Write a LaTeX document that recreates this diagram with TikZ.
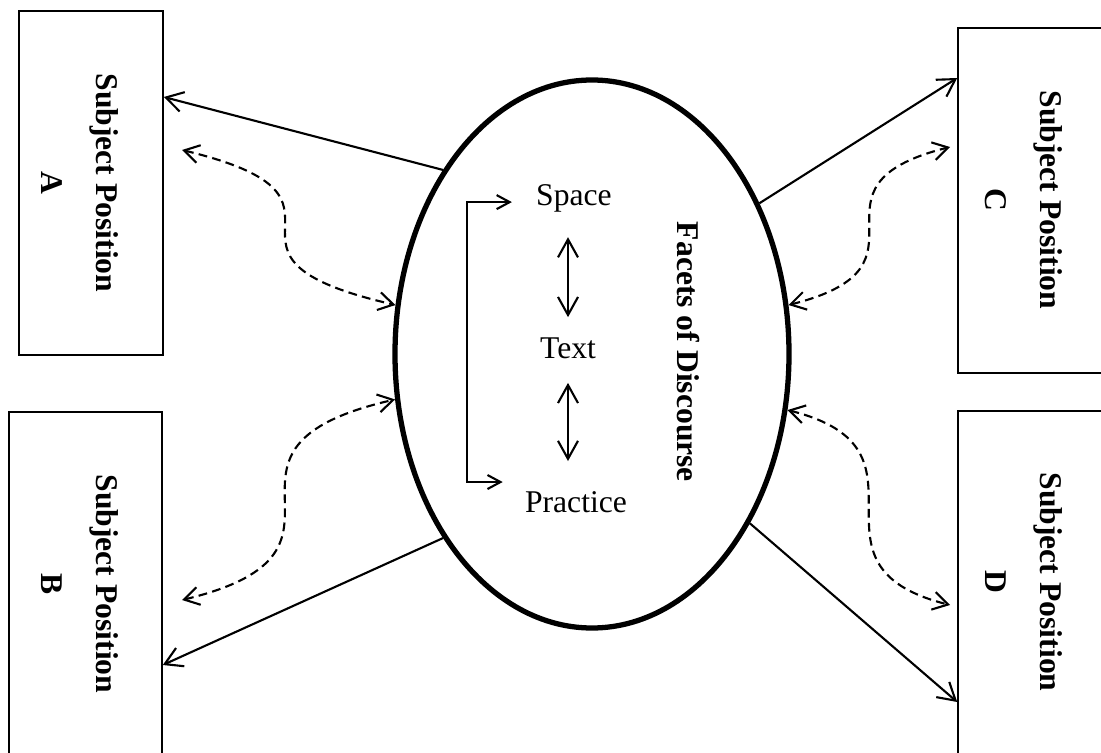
\documentclass[tikz,border=0pt]{standalone}
\usepackage{fontspec}
\setmainfont{Liberation Serif}
\usetikzlibrary{arrows.meta,shapes.geometric}

\newcommand{\figfont}{\fontsize{18}{21.6}\selectfont}

\begin{document}
\begin{tikzpicture}[x=0.2mm, y=-0.2mm, font=\figfont,
		box/.style={draw, line width=0.9pt, inner sep=0pt},
		sub/.style={rotate=-90, align=center, inner sep=0pt, font=\figfont\bfseries},
		word/.style={inner sep=0pt},
		link/.style={line width=1.2pt, -{Straight Barb[length=3.4mm,width=4mm]}},
		dlink/.style={line width=1.2pt, dash pattern=on 5pt off 3pt, {Straight Barb[length=3mm,width=3.6mm]}-{Straight Barb[length=3mm,width=3.6mm]}},
		dbl/.style={line width=1.2pt, {Straight Barb[length=3.6mm,width=4mm]}-{Straight Barb[length=3.6mm,width=4mm]}},
		brk/.style={line width=1.2pt, {Straight Barb[length=2.6mm,width=2.8mm]}-{Straight Barb[length=2.6mm,width=2.8mm]}}]

		\useasboundingbox (0,0) rectangle (1101,753);
		\clip (0,0) rectangle (1101,753);

		% subject positions
		\node[box, minimum width=28.8mm, minimum height=68.8mm] (boxA) at (91,183) {};
		\node[box, minimum width=30.6mm, minimum height=77.6mm] (boxB) at (85.5,606) {};
		\node[box, minimum width=38.4mm, minimum height=69mm] (boxC) at (1054,200.5) {};
		\node[box, minimum width=38.4mm, minimum height=77.8mm] (boxD) at (1054,605.5) {};
		\foreach \n/\x/\y in {A/80/183, B/80/584, C/1024/200, D/1024/582}{
			\node[sub] (lbl\n) at (\x,\y) {Subject Position\\[9.7pt]\n};
		}

		% facets
		\node[ellipse, draw, line width=3pt, minimum width=78.8mm, minimum height=109.6mm, inner sep=0pt] (fac) at (592,354) {};
		\node[word] (spc) at (574,198) {Space};
		\node[word] (txt) at (568,348) {Text};
		\node[word] (prc) at (576,502) {Practice};
		\node[sub] (facets) at (688,352) {Facets of Discourse};

		\draw[dbl, shorten <=5mm, shorten >=4mm] (txt.north |- spc.south) -- (txt.north);
		\draw[dbl, shorten <=4.8mm, shorten >=6mm] (txt.south) -- (txt.south |- prc.north);
		\draw[brk] ([xshift=-4.8mm, yshift=0.6mm]spc.base west) -- ++(-45,0) |- ([xshift=-4.4mm, yshift=1.8mm]prc.north west);

		% solid links
		\draw[link] (fac.129) -- (boxA.east |- 0,97);
		\draw[link] (fac.231) -- (boxB.east |- 0,665);
		\draw[link] (fac.42) -- (boxC.west |- 0,78);
		\draw[link] (fac.-47) -- (boxD.west |- 0,702);

		% dashed links
		\coordinate (dA) at (182,150);
		\coordinate (dB) at (182,600);
		\coordinate (dC) at (950,147);
		\coordinate (dD) at (950,605);
		\draw[dlink] (dA) .. controls +(208,50) and +(-218,-50) .. (fac.166);
		\draw[dlink] (dB) .. controls +(208,-50) and +(-218,50) .. (fac.193);
		\draw[dlink] (fac.14) .. controls +(160,-40) and +(-160,40) .. (dC);
		\draw[dlink] (fac.-16) .. controls +(160,40) and +(-160,-40) .. (dD);
\end{tikzpicture}
\end{document}
